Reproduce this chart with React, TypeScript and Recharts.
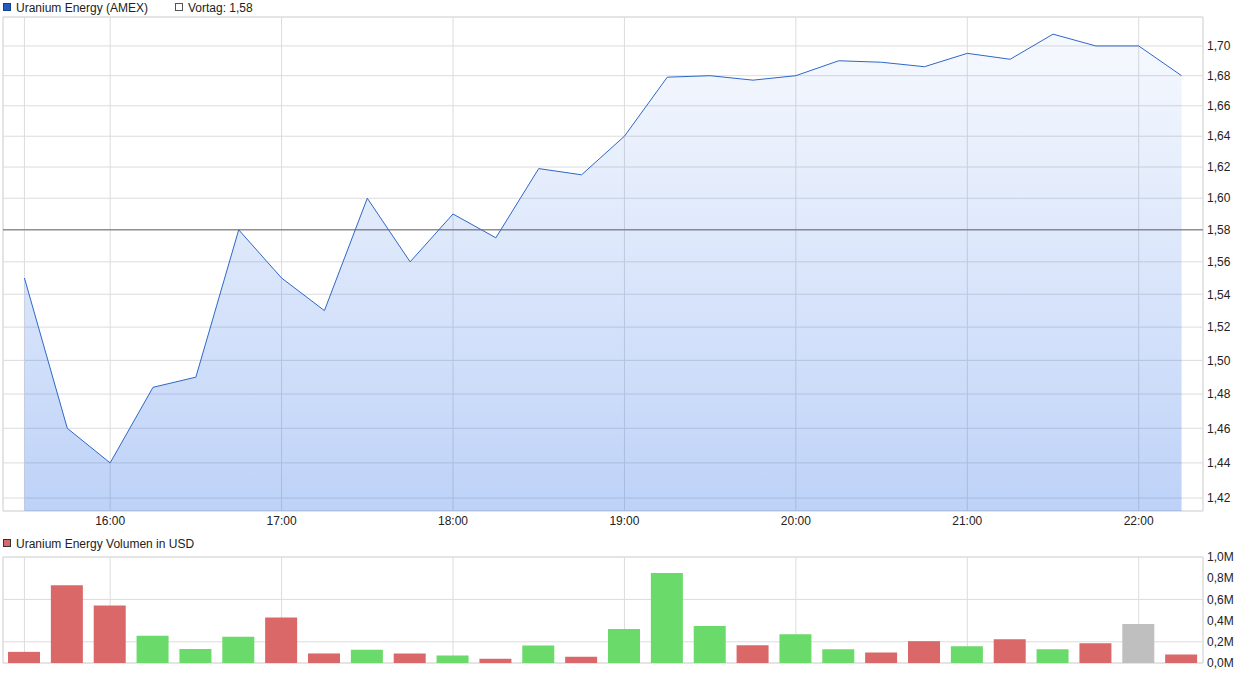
import React from 'react'
import {
  ComposedChart,
  Area,
  XAxis,
  YAxis,
  CartesianGrid,
  ReferenceLine,
  ReferenceArea,
  BarChart,
  Bar,
  Cell,
} from 'recharts'

// 15-minute intervals, local exchange time
const times = [
  '15:30', '15:45', '16:00', '16:15', '16:30', '16:45', '17:00',
  '17:15', '17:30', '17:45', '18:00', '18:15', '18:30', '18:45',
  '19:00', '19:15', '19:30', '19:45', '20:00', '20:15', '20:30',
  '20:45', '21:00', '21:15', '21:30', '21:45', '22:00', '22:15',
]
const prices = [
  1.55, 1.46, 1.44, 1.484, 1.49, 1.58, 1.55,
  1.53, 1.60, 1.56, 1.59, 1.575, 1.619, 1.615,
  1.64, 1.679, 1.68, 1.677, 1.68, 1.69, 1.689,
  1.686, 1.695, 1.691, 1.708, 1.70, 1.70, 1.68,
]
// volume in million USD
const volumes = [
  0.105, 0.733, 0.543, 0.257, 0.133, 0.248, 0.43,
  0.09, 0.125, 0.09, 0.07, 0.04, 0.165, 0.06,
  0.32, 0.85, 0.348, 0.168, 0.272, 0.13, 0.10,
  0.206, 0.158, 0.225, 0.13, 0.187, 0.367, 0.08,
]
const prevClose = 1.58
const timeTicks = ['15:30', '16:00', '17:00', '18:00', '19:00', '20:00', '21:00', '22:00']
const priceTicks = [1.42, 1.44, 1.46, 1.48, 1.5, 1.52, 1.54, 1.56, 1.58, 1.6, 1.62, 1.64, 1.66, 1.68, 1.7]
const volumeTicks = [0, 0.2, 0.4, 0.6, 0.8, 1.0]

const priceDomain: [number, number] = [1.4127, 1.7197]
const timeDomain: [number, number] = [922.5, 1342.5]

const toMin = (t: string) => {
  const [h, m] = t.split(':').map(Number)
  return h * 60 + m
}
const fmtTime = (m: number) =>
  m === toMin(timeTicks[0]) ? '' : `${Math.floor(m / 60)}:${String(m % 60).padStart(2, '0')}`
const fmtPrice = (v: number) => v.toFixed(2).replace('.', ',')
const fmtVol = (v: number) => v.toFixed(1).replace('.', ',') + 'M'

const rows = times.map((t, i) => ({ t: toMin(t), price: prices[i], volume: volumes[i] }))
const barColor = (i: number) => {
  const prev = i === 0 ? prevClose : prices[i - 1]
  if (prices[i] > prev) return '#6ADA6A'
  if (prices[i] < prev) return '#DA6868'
  return '#BFBFBF'
}

const font = '"Liberation Sans", Arial, sans-serif'
const tickStyle = { fontSize: 12, fill: '#222', fontFamily: font }
const gridColor = '#dcdcdc'

const LegendItem = ({ left, top, color, border, label }: any) => (
  <div style={{ position: 'absolute', left, top, fontSize: 12, lineHeight: '12px', color: '#222', whiteSpace: 'nowrap' }}>
    <span style={{ position: 'absolute', left: 0, top: 1, width: 6, height: 6, background: color, border: `1px solid ${border}` }} />
    <span style={{ marginLeft: 13 }}>{label}</span>
  </div>
)

export default function App() {
  return (
    <div style={{ position: 'absolute', left: 0, top: 0, width: 1253, height: 675, fontFamily: font, background: '#fff' }}>
      <LegendItem left={3} top={2} color="#1F5CC4" border="#1A3E85" label="Uranium Energy (AMEX)" />
      <LegendItem left={175} top={2} color="#fff" border="#555" label="Vortag: 1,58" />
      <LegendItem left={3} top={538} color="#DA6868" border="#333" label="Uranium Energy Volumen in USD" />

      <div style={{ position: 'absolute', left: 0, top: 0 }}>
        <ComposedChart width={1253} height={530} data={rows} margin={{ top: 17, right: 0, bottom: 0, left: 3 }}>
          <defs>
            <linearGradient id="priceFill" gradientUnits="userSpaceOnUse" x1="0" y1="17" x2="0" y2="511">
              <stop offset="0%" stopColor="rgb(30,100,230)" stopOpacity={0.03} />
              <stop offset="100%" stopColor="rgb(30,100,230)" stopOpacity={0.29} />
            </linearGradient>
          </defs>
          <CartesianGrid stroke={gridColor} />
          <XAxis
            dataKey="t"
            type="number"
            domain={timeDomain}
            ticks={timeTicks.map(toMin)}
            tickFormatter={fmtTime}
            height={19}
            axisLine={false}
            tickLine={false}
            tickSize={0}
            tickMargin={5}
            tick={tickStyle}
            allowDataOverflow
          />
          <YAxis
            orientation="right"
            width={50}
            scale="log"
            type="number"
            domain={priceDomain}
            ticks={priceTicks}
            tickFormatter={fmtPrice}
            axisLine={false}
            tickLine={false}
            tickSize={0}
            tickMargin={4}
            tick={tickStyle}
            allowDataOverflow
          />
          <ReferenceArea x1={timeDomain[0]} x2={timeDomain[1]} y1={priceDomain[0]} y2={priceDomain[1]} fill="none" stroke={gridColor} ifOverflow="visible" />
          <Area
            type="linear"
            dataKey="price"
            stroke="#2E67C8"
            strokeWidth={1}
            fill="url(#priceFill)"
            fillOpacity={1}
            baseValue="dataMin"
            dot={false}
            activeDot={false}
            isAnimationActive={false}
          />
          <ReferenceLine y={prevClose} stroke="#666" strokeWidth={1} />
        </ComposedChart>
      </div>

      <div style={{ position: 'absolute', left: 0, top: 530 }}>
        <BarChart width={1253} height={145} data={rows} margin={{ top: 27, right: 0, bottom: 12, left: 3 }}>
          <CartesianGrid stroke={gridColor} />
          <XAxis dataKey="t" type="number" domain={timeDomain} ticks={timeTicks.map(toMin)} hide allowDataOverflow />
          <YAxis
            orientation="right"
            width={50}
            type="number"
            domain={[0, 1]}
            ticks={volumeTicks}
            tickFormatter={fmtVol}
            axisLine={false}
            tickLine={false}
            tickSize={0}
            tickMargin={4}
            tick={tickStyle}
          />
          <ReferenceArea x1={timeDomain[0]} x2={timeDomain[1]} y1={0} y2={1} fill="none" stroke={gridColor} ifOverflow="visible" />
          <Bar dataKey="volume" barSize={32} isAnimationActive={false}>
            {rows.map((_, i) => (
              <Cell key={i} fill={barColor(i)} />
            ))}
          </Bar>
        </BarChart>
      </div>
    </div>
  )
}
